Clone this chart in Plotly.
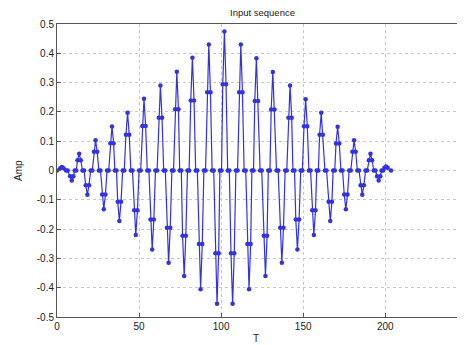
import plotly.graph_objects as go

# Peak positions (T) and signed peak amplitudes
peak_t = [3, 9, 13.5, 18.5, 23.5, 28.5, 33.5, 38, 43, 48, 53, 58, 63, 68, 73,
          77.5, 82.5, 87.5, 92.5, 97.5, 102, 107, 112, 117, 121.5, 127, 131.5,
          137, 142, 146.5, 151.5, 156.5, 161, 166.5, 171, 176, 181, 186, 191,
          196, 200.5]
peak_amp = [0.012, -0.034, 0.057, -0.083, 0.103, -0.132, 0.15, -0.172, 0.197,
            -0.22, 0.245, -0.27, 0.29, -0.315, 0.337, -0.36, 0.385, -0.405,
            0.43, -0.455, 0.474, -0.455, 0.43, -0.405, 0.383, -0.36, 0.336,
            -0.315, 0.29, -0.27, 0.243, -0.22, 0.197, -0.172, 0.149, -0.132,
            0.103, -0.083, 0.057, -0.034, 0.014]
# shoulder samples either side of each peak
mid_amp = [0.008, -0.02, 0.035, -0.05, 0.064, -0.082, 0.093, -0.107, 0.122,
           -0.136, 0.152, -0.167, 0.18, -0.195, 0.209, -0.223, 0.239, -0.251,
           0.267, -0.282, 0.294, -0.282, 0.267, -0.251, 0.237, -0.223, 0.208,
           -0.195, 0.18, -0.167, 0.151, -0.136, 0.122, -0.107, 0.092, -0.082,
           0.064, -0.05, 0.035, -0.02, 0.009]
start_t, start_amp = 0, 0.0
end_t, end_amp = 203.5, 0.0

x_ticks = [0, 50, 100, 150, 200, 250]
y_ticks = [-0.5, -0.4, -0.3, -0.2, -0.1, 0, 0.1, 0.2, 0.3, 0.4, 0.5]
y_ticklabels = ["-0.5", "-0.4", "-0.3", "-0.2", "-0.1", "0", "0.1", "0.2", "0.3", "0.4", "0.5"]

# assemble the sample sequence from the read values
T, A = [start_t], [start_amp]
for i, (pt, pa, ma) in enumerate(zip(peak_t, peak_amp, mid_amp)):
    T += [pt - 1, pt, pt + 1]
    A += [ma, pa, ma]
    if i + 1 < len(peak_t):
        nxt = peak_t[i + 1]
        if nxt - pt > 4:
            c = (pt + nxt) / 2
            T += [c - 0.5, c + 0.5]
            A += [0.0, 0.0]
T.append(end_t)
A.append(end_amp)

blue = "rgb(50,50,225)"
fig = go.Figure()
fig.add_trace(go.Scatter(
    x=T, y=A, mode="lines+markers",
    line=dict(color=blue, width=1.2),
    marker=dict(color=blue, size=4.5, symbol="circle"),
    showlegend=False,
))

font = dict(family="Liberation Sans, Arial, sans-serif", size=10, color="#222")
axis_common = dict(
    showline=True, linecolor="#555", linewidth=1, mirror=True,
    ticks="inside", ticklen=4, tickcolor="#555",
    showgrid=True, gridcolor="#c8c8c8", griddash="dot", gridwidth=1,
    zeroline=False, tickfont=font,
)
# page body has an 8px margin, so the figure is sized/offset to compensate
fig.update_layout(
    width=457, height=337,
    margin=dict(l=49, r=0, t=16, b=28),
    paper_bgcolor="white", plot_bgcolor="white",
    xaxis=dict(range=[0, 248.6], tickvals=x_ticks, **axis_common),
    yaxis=dict(range=[-0.5, 0.5], tickvals=y_ticks, ticktext=y_ticklabels, **axis_common),
    font=font,
)
fig.add_annotation(text="Input sequence", xref="x", yref="paper", x=125, y=1.038,
                   yanchor="middle", borderpad=0, showarrow=False,
                   font=dict(family=font["family"], size=9.5, color="#222"))
fig.add_annotation(text="T", xref="x", yref="paper", x=121, y=-0.072, yanchor="middle",
                   showarrow=False, font=font)
fig.add_annotation(text="Amp", xref="paper", yref="y", x=0, y=0, xanchor="right",
                   xshift=-31, textangle=-90, showarrow=False, font=font)
fig.write_html("out.html")
